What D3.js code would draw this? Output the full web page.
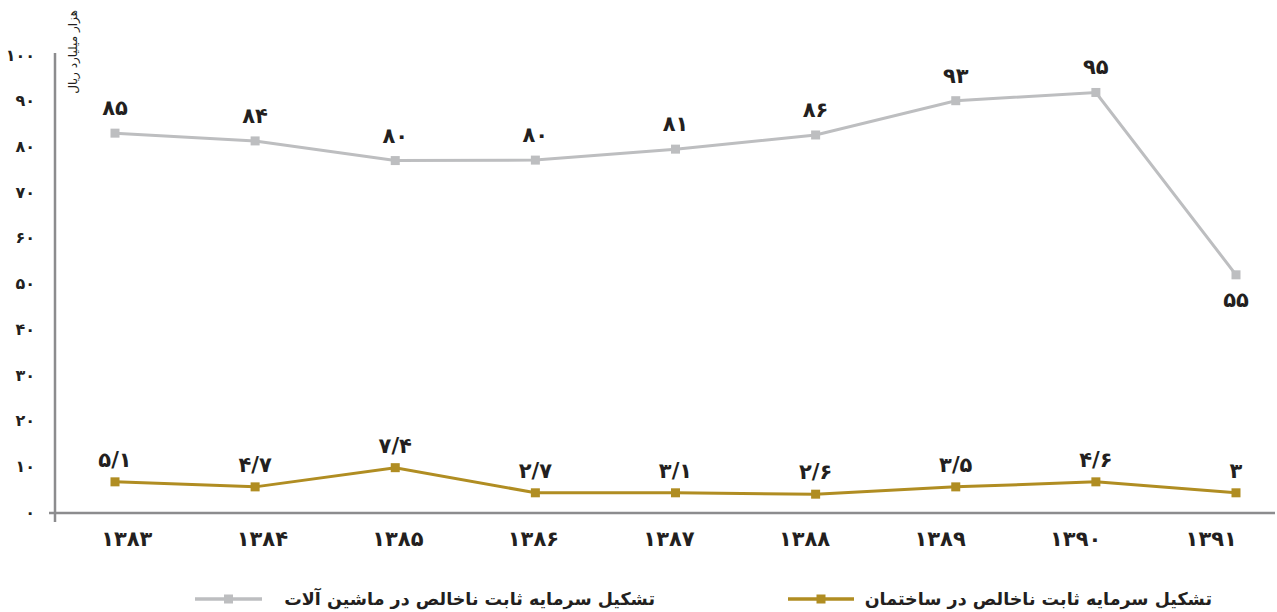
<!DOCTYPE html>
<html lang="fa">
<head>
<meta charset="UTF-8">
<title>تشکیل سرمایه ثابت ناخالص</title>
<script src="https://d3js.org/d3.v7.min.js"></script>
<style>
  body { margin: 0; background: #fff; }
  text { font-family: "DejaVu Sans", sans-serif; fill: #231f20; }
  .tick-label { font-size: 16px; font-weight: bold; }
  .year-label { font-size: 21px; font-weight: bold; }
  .value-label { font-size: 21px; font-weight: bold; }
  .legend-label { font-size: 17.5px; font-weight: bold; }
</style>
</head>
<body>
<div id="chart"></div>
<script>
// سال‌ها
const years = [1383, 1384, 1385, 1386, 1387, 1388, 1389, 1390, 1391];

// ماشین آلات: مقادیر رسم شده و برچسب‌ها
const machineryValues = [82.9, 81.2, 76.9, 77.0, 79.4, 82.5, 90.0, 91.8, 51.9];
const machineryLabels = ["85", "84", "80", "80", "81", "86", "93", "95", "55"];

// ساختمان
const buildingValues = [6.6, 5.5, 9.7, 4.2, 4.2, 3.9, 5.5, 6.6, 4.2];
const buildingLabels = ["5/1", "4/7", "7/4", "2/7", "3/1", "2/6", "3/5", "4/6", "3"];

const yTicks = [0, 10, 20, 30, 40, 50, 60, 70, 80, 90, 100];

const seriesNames = [
  "تشکیل سرمایه ثابت ناخالص در ماشین آلات",
  "تشکیل سرمایه ثابت ناخالص در ساختمان"
];
const unitLabel = "هزار میلیارد ریال";

const grayColor = "#bdbec0";
const goldColor = "#b08d22";
const axisColor = "#8c8c8e";

// ارقام فارسی
const faDigits = "۰۱۲۳۴۵۶۷۸۹";
const toFa = s => String(s).replace(/[0-9]/g, d => faDigits[+d]);

const width = 1277, height = 612;
const svg = d3.select("#chart").append("svg")
  .attr("width", width)
  .attr("height", height);

// نقاط و برچسب سال‌ها کمی جدا از هم قرار گرفته‌اند
const x = d3.scalePoint().domain(years).range([115, 1236]);
const xBand = d3.scaleBand().domain(years).range([59, 1279]);
const y = d3.scaleLinear().domain([0, 100]).range([512, 55]);

// محورها
svg.append("line")
  .attr("x1", 55).attr("x2", 55)
  .attr("y1", 53).attr("y2", 522)
  .attr("stroke", axisColor).attr("stroke-width", 2.5);
svg.append("line")
  .attr("x1", 49).attr("x2", 1275)
  .attr("y1", y(0) + 1).attr("y2", y(0) + 1)
  .attr("stroke", axisColor).attr("stroke-width", 2.5);

svg.selectAll(".tick-label")
  .data(yTicks)
  .enter().append("text")
  .attr("class", "tick-label")
  .attr("x", 35)
  .attr("y", d => y(d))
  .attr("dy", "0.35em")
  .attr("text-anchor", "end")
  .text(d => toFa(d));

svg.selectAll(".year-label")
  .data(years)
  .enter().append("text")
  .attr("class", "year-label")
  .attr("x", d => xBand(d) + xBand.bandwidth() / 2)
  .attr("y", 546)
  .attr("text-anchor", "middle")
  .text(d => toFa(d));

// عنوان محور
svg.append("text")
  .attr("transform", "translate(77,10) rotate(-90)")
  .attr("font-size", 12)
  .attr("text-anchor", "end")
  .text(unitLabel);

const line = d3.line()
  .x((d, i) => x(years[i]))
  .y(d => y(d));

function drawSeries(values, labels, color, size, labelOffset) {
  svg.append("path")
    .datum(values)
    .attr("d", line)
    .attr("fill", "none")
    .attr("stroke", color)
    .attr("stroke-width", 3);

  svg.selectAll(null)
    .data(values)
    .enter().append("rect")
    .attr("x", (d, i) => x(years[i]) - size / 2)
    .attr("y", d => y(d) - size / 2)
    .attr("width", size)
    .attr("height", size)
    .attr("fill", color);

  svg.selectAll(null)
    .data(values)
    .enter().append("text")
    .attr("class", "value-label")
    .attr("x", (d, i) => x(years[i]))
    .attr("y", (d, i) => y(d) + labelOffset(i))
    .attr("text-anchor", "middle")
    .text((d, i) => toFa(labels[i]));
}

drawSeries(machineryValues, machineryLabels, grayColor, 9,
  i => i === years.length - 1 ? 32 : -18);
drawSeries(buildingValues, buildingLabels, goldColor, 9, () => -15);

// راهنما
function legendItem(x0, x1, textRight, color, name) {
  svg.append("line")
    .attr("x1", x0).attr("x2", x1)
    .attr("y1", 599).attr("y2", 599)
    .attr("stroke", color).attr("stroke-width", 3.5);
  svg.append("rect")
    .attr("x", (x0 + x1) / 2 - 4.5).attr("y", 599 - 4.5)
    .attr("width", 9).attr("height", 9)
    .attr("fill", color);
  svg.append("text")
    .attr("class", "legend-label")
    .attr("x", textRight)
    .attr("y", 605)
    .attr("text-anchor", "start")
    .attr("direction", "rtl")
    .text(name);
}
legendItem(195, 262, 655, grayColor, seriesNames[0]);
legendItem(788, 854, 1212, goldColor, seriesNames[1]);
</script>
</body>
</html>
